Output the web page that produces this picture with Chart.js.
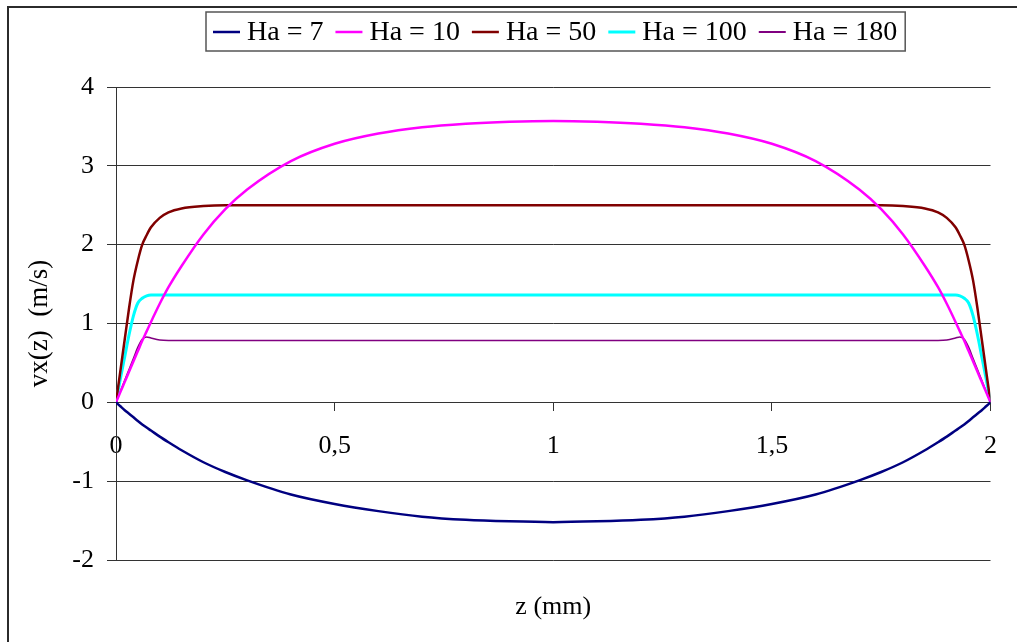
<!DOCTYPE html>
<html>
<head>
<meta charset="utf-8">
<script src="https://cdn.jsdelivr.net/npm/chart.js@4/dist/chart.umd.min.js"></script>
</head>
<body style="margin:0">
<canvas id="myChart" width="1017" height="642"></canvas>
<script>
// z positions (mm), denser near the walls
var zValues = [0, 0.01, 0.02, 0.03, 0.04, 0.05, 0.06, 0.07, 0.08, 0.1, 0.12, 0.15, 0.2, 0.25, 0.3, 0.4, 0.5, 0.6, 0.7, 0.8, 0.9,
  1, 1.1, 1.2, 1.3, 1.4, 1.5, 1.6, 1.7, 1.75, 1.8, 1.85, 1.88, 1.9, 1.92, 1.93, 1.94, 1.95, 1.96, 1.97, 1.98, 1.99, 2];

var seriesLabels = ['Ha = 7', 'Ha = 10', 'Ha = 50', 'Ha = 100', 'Ha = 180'];

var ha7 = [0, -0.05, -0.10, -0.145, -0.19, -0.236, -0.28, -0.32, -0.358, -0.435, -0.506, -0.608, -0.76, -0.884, -0.99, -1.17, -1.29, -1.38, -1.45, -1.49, -1.51,
  -1.52, -1.51, -1.49, -1.45, -1.38, -1.29, -1.17, -0.99, -0.884, -0.76, -0.608, -0.506, -0.435, -0.358, -0.32, -0.28, -0.236, -0.19, -0.145, -0.10, -0.05, 0];
var ha10 = [0, 0.13, 0.26, 0.39, 0.52, 0.65, 0.78, 0.9, 1.02, 1.25, 1.46, 1.73, 2.13, 2.45, 2.7, 3.06, 3.28, 3.41, 3.49, 3.535, 3.56,
  3.57, 3.56, 3.535, 3.49, 3.41, 3.28, 3.06, 2.7, 2.45, 2.13, 1.73, 1.46, 1.25, 1.02, 0.9, 0.78, 0.65, 0.52, 0.39, 0.26, 0.13, 0];
var ha50 = [0, 0.4, 0.8, 1.2, 1.55, 1.8, 2.0, 2.12, 2.22, 2.34, 2.41, 2.46, 2.49, 2.5, 2.5, 2.5, 2.5, 2.5, 2.5, 2.5, 2.5,
  2.5, 2.5, 2.5, 2.5, 2.5, 2.5, 2.5, 2.5, 2.5, 2.49, 2.46, 2.41, 2.34, 2.22, 2.12, 2.0, 1.8, 1.55, 1.2, 0.8, 0.4, 0];
var ha100 = [0, 0.3, 0.58, 0.86, 1.1, 1.26, 1.32, 1.35, 1.36, 1.36, 1.36, 1.36, 1.36, 1.36, 1.36, 1.36, 1.36, 1.36, 1.36, 1.36, 1.36,
  1.36, 1.36, 1.36, 1.36, 1.36, 1.36, 1.36, 1.36, 1.36, 1.36, 1.36, 1.36, 1.36, 1.36, 1.35, 1.32, 1.26, 1.1, 0.86, 0.58, 0.3, 0];
var ha180 = [0, 0.14, 0.28, 0.42, 0.56, 0.7, 0.8, 0.83, 0.815, 0.79, 0.785, 0.785, 0.785, 0.785, 0.785, 0.785, 0.785, 0.785, 0.785, 0.785, 0.785,
  0.785, 0.785, 0.785, 0.785, 0.785, 0.785, 0.785, 0.785, 0.785, 0.785, 0.785, 0.785, 0.79, 0.815, 0.83, 0.8, 0.7, 0.56, 0.42, 0.28, 0.14, 0];

var xTickLabels = ['0', '0,5', '1', '1,5', '2'];
var yTickLabels = ['-2', '-1', '0', '1', '2', '3', '4'];

var fontFam = '"Liberation Serif"';
var colors = ['#000080', '#ff00ff', '#800000', '#00ffff', '#800080'];
var widths = [2.5, 2.5, 2.5, 3, 1.5];
var allSeries = [ha7, ha10, ha50, ha100, ha180];

function toPoints(vals) {
    return vals.map(function(v, i) { return { x: zValues[i], y: v }; });
}

// outer frame, legend box and the x title
var decorations = {
    id: 'decorations',
    beforeDraw: function(chart) {
        var ctx = chart.ctx;
        ctx.save();
        ctx.fillStyle = '#fff';
        ctx.fillRect(0, 0, chart.width, chart.height);
        ctx.strokeStyle = '#2b2b2b';
        ctx.lineWidth = 2;
        ctx.strokeRect(8, 7, 1100, 700);
        ctx.restore();
    },
    afterDraw: function(chart) {
        var ctx = chart.ctx;
        ctx.save();
        ctx.font = '28px ' + fontFam;
        ctx.textBaseline = 'middle';
        var x = 213, y = 32;
        chart.data.datasets.forEach(function(ds) {
            ctx.strokeStyle = ds.borderColor;
            ctx.lineWidth = Math.max(ds.borderWidth, 2);
            ctx.beginPath();
            ctx.moveTo(x, y);
            ctx.lineTo(x + 27, y);
            ctx.stroke();
            x += 34;
            ctx.fillStyle = '#000';
            ctx.fillText(ds.label, x, y + 1);
            x += ctx.measureText(ds.label).width + 12;
        });
        ctx.strokeStyle = '#555';
        ctx.lineWidth = 1.5;
        ctx.strokeRect(206, 12, x - 12 + 8 - 206, 39);

        ctx.textAlign = 'center';
        ctx.font = '26px ' + fontFam;
        var area = chart.chartArea;
        ctx.fillText('z (mm)', (area.left + area.right) / 2, 607);
        ctx.restore();
    }
};

new Chart(document.getElementById('myChart').getContext('2d'), {
    type: 'line',
    data: {
        datasets: allSeries.map(function(vals, i) {
            return {
                label: seriesLabels[i],
                data: toPoints(vals),
                borderColor: colors[i],
                backgroundColor: colors[i],
                borderWidth: widths[i],
                pointRadius: 0,
                fill: false,
                cubicInterpolationMode: 'monotone'
            };
        })
    },
    options: {
        responsive: false,
        animation: false,
        layout: { padding: { left: 0, top: 87, right: 21, bottom: 82 } },
        plugins: {
            legend: { display: false },
            tooltip: { enabled: false }
        },
        scales: {
            x: {
                type: 'linear',
                position: { y: 0 },
                min: 0,
                max: 2,
                ticks: {
                    stepSize: 0.5,
                    color: '#000',
                    padding: 20,
                    maxRotation: 0,
                    font: { family: fontFam, size: 26 },
                    callback: function(v) { return xTickLabels[Math.round(v * 2)]; }
                },
                grid: { drawOnChartArea: false, drawTicks: true, tickLength: 8, color: '#333' },
                border: { display: true, color: '#333', width: 1 }
            },
            y: {
                min: -2,
                max: 4,
                ticks: {
                    stepSize: 1,
                    color: '#000',
                    padding: 13,
                    font: { family: fontFam, size: 26 },
                    callback: function(v) { return yTickLabels[Math.round(v) + 2]; }
                },
                grid: { color: '#333', tickLength: 9 },
                border: { display: true, color: '#333', width: 1 },
                title: {
                    display: true,
                    text: 'vx(z)  (m/s)',
                    color: '#000',
                    font: { family: fontFam, size: 27 },
                    padding: { top: 24, bottom: 0 }
                },
                afterFit: function(scale) { scale.width = 116; }
            }
        }
    },
    plugins: [decorations]
});
</script>
</body>
</html>
